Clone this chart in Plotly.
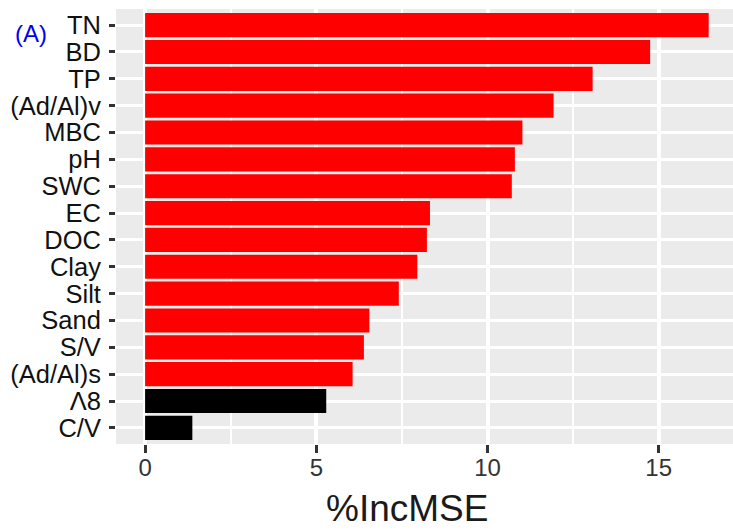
import plotly.graph_objects as go

variables = ["TN", "BD", "TP", "(Ad/Al)v", "MBC", "pH", "SWC", "EC", "DOC",
             "Clay", "Silt", "Sand", "S/V", "(Ad/Al)s", "Λ8", "C/V"]
inc_mse = [16.46, 14.75, 13.07, 11.93, 11.02, 10.80, 10.71, 8.32, 8.23,
           7.95, 7.41, 6.55, 6.39, 6.06, 5.29, 1.38]
significant = [True] * 14 + [False, False]
x_ticks = [0, 5, 10, 15]

colors = ["#FF0000" if s else "#000000" for s in significant]

W, H = 733, 532
ML, MR, MT, MB = 116, 0, 9, 88
PW = W - ML - MR
PH = H - MT - MB

fig = go.Figure(go.Bar(
    y=variables, x=inc_mse, orientation="h",
    marker=dict(color=colors, line=dict(width=0)),
    width=0.9,
))

fig.update_layout(
    width=W, height=H,
    margin=dict(l=ML, r=MR, t=MT, b=MB, pad=0),
    paper_bgcolor="white", plot_bgcolor="#EBEBEB",
    font=dict(family="Liberation Sans, Arial, sans-serif", color="#1a1a1a"),
    showlegend=False,
    bargap=0.1,
)
fig.update_xaxes(
    range=[-0.85, 17.17], tickmode="array", tickvals=x_ticks,
    ticktext=[str(t) for t in x_ticks],
    showgrid=True, gridcolor="white", gridwidth=3.5,
    minor=dict(tickvals=[2.5, 7.5, 12.5], showgrid=True, gridcolor="white", gridwidth=1.6, ticks=""),
    zeroline=False, showline=False,
    ticks="outside", ticklen=8, tickwidth=2.5, tickcolor="#333333",
    tickfont=dict(size=24, color="#333333"),
    ticklabelstandoff=-6,
)
fig.update_yaxes(
    categoryorder="array", categoryarray=variables,
    tickmode="array", tickvals=variables, ticktext=variables,
    range=[15.6, -0.6],
    showgrid=True, gridcolor="white", gridwidth=2.8,
    zeroline=False, showline=False,
    ticks="outside", ticklen=6, tickwidth=2.5, tickcolor="#333333",
    tickfont=dict(size=25.5, color="#111111"),
    ticklabelstandoff=3,
)

fig.add_annotation(
    text="%IncMSE", xref="paper", yref="paper",
    x=(407 - ML) / PW, y=-(509 - (MT + PH)) / PH,
    xanchor="center", yanchor="middle", showarrow=False,
    font=dict(size=37, color="#1a1a1a"),
)
fig.add_annotation(
    text="(A)", xref="paper", yref="paper",
    x=(13 - ML) / PW, y=(MT + PH - 33) / PH,
    xanchor="left", yanchor="middle", showarrow=False,
    font=dict(size=24, color="#0000EE"),
)

fig.write_html("out.html")
